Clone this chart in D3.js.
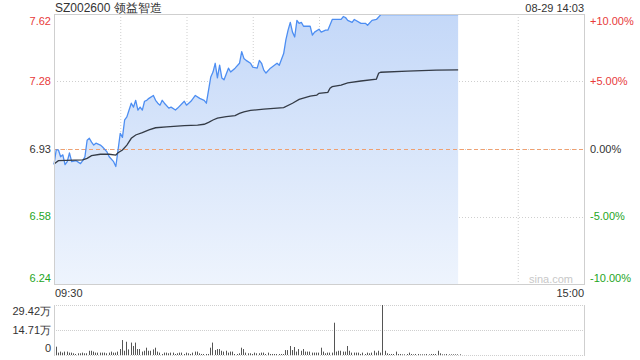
<!DOCTYPE html>
<html><head><meta charset="utf-8">
<script src="https://cdn.jsdelivr.net/npm/d3@7"></script>
<style>html,body{margin:0;padding:0;background:#fff;} svg{display:block;font-family:"Liberation Sans",Arial,sans-serif;}</style>
</head><body><svg id="c" width="640" height="360"></svg>
<script>
const title = "SZ002600 领益智造";
const stamp = "08-29 14:03";
const watermark = "sina.com";
const prevClose = 6.93;
const priceTickLabels = ["7.62","7.28","6.93","6.58","6.24"];
const pctTicks = [10,5,0,-5,-10];
const pctTickLabels = ["+10.00%","+5.00%","0.00%","-5.00%","-10.00%"];
const timeLabels = ["09:30","15:00"];
const volTicks = [29.42,14.71,0];
const volTickLabels = ["29.42万","14.71万","0"];

const priceMinutes = [0,1,2,3,4,5,6,7,8,10,12,13,14,15,16,17,18,19,21,22,24,25,27,28,29,30,31,32,33,34,35,36,37,38,39,40,41,42,43,45,46,47,48,49,50,52,53,55,56,59,60,62,64,66,68,69,71,72,73,74,75,76,77,79,80,82,84,85,86,87,89,90,92,93,94,95,96,98,101,102,104,105,106,107,108,109,110,111,112,113,116,117,118,120,121,123,124,126,130,131,132,133,135,136,139,141,142,144,146,148,183];
const prices = [6.85,6.925,6.925,6.89,6.90,6.85,6.865,6.91,6.865,6.87,6.855,6.87,6.89,6.975,6.985,6.965,6.95,6.96,6.95,6.94,6.915,6.89,6.865,6.84,6.925,7.01,6.99,7.08,7.095,7.13,7.165,7.145,7.18,7.13,7.145,7.13,7.175,7.18,7.19,7.205,7.18,7.165,7.155,7.18,7.165,7.14,7.145,7.13,7.14,7.175,7.155,7.175,7.205,7.19,7.18,7.165,7.30,7.325,7.37,7.295,7.36,7.295,7.285,7.345,7.325,7.345,7.37,7.43,7.395,7.385,7.37,7.35,7.345,7.385,7.37,7.335,7.32,7.345,7.37,7.36,7.42,7.49,7.54,7.58,7.53,7.505,7.59,7.575,7.58,7.56,7.56,7.515,7.53,7.545,7.53,7.54,7.54,7.595,7.595,7.61,7.605,7.59,7.58,7.595,7.575,7.575,7.565,7.59,7.595,7.62,7.62];

const avgMinutes = [0,2,13,15,17,21,25,28,29,31,33,35,37,40,43,46,51,59,65,68,70,72,74,78,82,84,86,89,95,104,108,111,116,119,120,124,125,126,130,133,139,146,147,148,160,173,183];
const avgPrices = [6.853,6.87,6.874,6.882,6.896,6.903,6.903,6.899,6.911,6.925,6.95,6.985,7.002,7.014,7.028,7.039,7.044,7.05,7.053,7.057,7.067,7.079,7.088,7.096,7.101,7.113,7.121,7.128,7.135,7.142,7.165,7.185,7.202,7.207,7.216,7.221,7.242,7.25,7.258,7.27,7.279,7.289,7.319,7.324,7.33,7.335,7.336];

const volumes = [4.9,1.4,2.0,1.4,2.0,2.0,1.4,1.4,1.0,0.6,1.0,1.0,1.4,1.0,1.0,2.5,2.5,2.0,1.4,1.4,1.4,1.4,1.4,1.0,1.4,2.0,1.4,1.4,2.0,3.5,
8.8,2.5,7.8,3.3,7.3,5.3,7.3,3.5,3.5,2.0,2.5,4.3,2.5,2.5,3.3,4.3,2.0,1.4,0.6,1.4,1.4,1.0,1.4,1.4,0.6,1.0,1.4,1.4,0.6,1.4,
1.0,0.6,1.4,2.0,2.0,1.0,0.6,0.6,0.6,0.6,4.3,7.3,2.9,3.5,3.5,2.5,2.0,2.5,1.4,2.0,2.0,0.6,0.6,1.0,4.3,3.5,1.4,1.0,1.0,0.6,
1.4,1.0,1.0,1.4,1.4,0.6,1.4,0.6,0.6,0.6,0.6,0.6,0.6,0.6,2.9,2.9,5.3,2.9,4.7,2.0,3.5,2.5,3.5,2.0,2.0,2.0,1.4,1.4,1.4,1.4,
4.3,2.0,1.0,1.4,1.4,1.4,19.0,2.0,2.5,2.5,2.0,2.0,5.3,2.5,1.4,1.4,1.4,1.4,0.6,1.4,0.6,1.4,1.0,1.4,2.5,1.4,2.5,1.4,29.42,2.5,
1.0,0.6,0.6,0.6,2.0,0.6,0.6,0.4,0.4,0.6,1.4,0.6,0.4,0.6,0.6,0.4,0.4,0.4,0.6,0.4,0.6,0.6,0.6,2.5,1.0,0.4,0.4,0.6,0.4,0.4,
0.4,0.4,0.4,0.4];

const L = 54, R = 584, T = 14, B = 284, VT = 305, VB = 355;
const svg = d3.select("#c");
const x = d3.scaleLinear().domain([0, 240]).range([L, R]);
const y = d3.scaleLinear().domain([prevClose * 0.9, prevClose * 1.1]).range([B, T]);
const yv = d3.scaleLinear().domain([0, 29.42]).range([VB, VT]);
const grid = "#cfcfcf";

// gradient
const defs = svg.append("defs");
const g = defs.append("linearGradient").attr("id", "fillg").attr("gradientUnits", "userSpaceOnUse")
  .attr("x1", 0).attr("y1", T).attr("x2", 0).attr("y2", B);
g.append("stop").attr("offset", 0).attr("stop-color", "#c4d8f8");
g.append("stop").attr("offset", 1).attr("stop-color", "#eef4fd");

// vertical grid
const vMin = d3.range(1, 8).map(k => k * 30);
svg.append("g").selectAll("line").data(vMin).join("line")
  .attr("x1", d => x(d) + 0.5).attr("x2", d => x(d) + 0.5).attr("y1", T).attr("y2", B)
  .attr("stroke", grid).attr("stroke-dasharray", "1,2");
// horizontal grid
svg.append("g").selectAll("line").data(pctTicks.filter(p => p !== 10 && p !== -10)).join("line")
  .attr("x1", L).attr("x2", R).attr("y1", d => Math.round(y(prevClose * (1 + d / 100))) + 0.5)
  .attr("y2", d => Math.round(y(prevClose * (1 + d / 100))) + 0.5)
  .attr("stroke", grid).attr("stroke-dasharray", "1,2");

const pts = priceMinutes.map((m, i) => ({ m, p: prices[i] }));
const apts = avgMinutes.map((m, i) => ({ m, p: avgPrices[i] }));

svg.append("path").datum(pts)
  .attr("d", d3.area().x(d => x(d.m)).y0(B).y1(d => y(d.p)))
  .attr("fill", "url(#fillg)");

// prev close dashed line
const y0 = Math.round(y(prevClose)) + 0.5;
svg.append("line").attr("x1", L).attr("x2", R).attr("y1", y0).attr("y2", y0)
  .attr("stroke", "#f0a070").attr("stroke-dasharray", "4,3");

svg.append("path").datum(pts)
  .attr("d", d3.line().x(d => x(d.m)).y(d => y(d.p)))
  .attr("fill", "none").attr("stroke", "#4d8ef2").attr("stroke-width", 1.3).attr("stroke-linejoin", "round");
svg.append("path").datum(apts)
  .attr("d", d3.line().x(d => x(d.m)).y(d => y(d.p)))
  .attr("fill", "none").attr("stroke", "#343b46").attr("stroke-width", 1.3);

// border
svg.append("rect").attr("x", L + 0.5).attr("y", T + 0.5).attr("width", R - L).attr("height", B - T)
  .attr("fill", "none").attr("stroke", grid);

// left labels
const colorFor = p => p > 0 ? "#e83a3a" : (p < 0 ? "#1ea51e" : "#333");
const clampY = v => Math.max(T + 7, Math.min(B - 6, v));
svg.append("g").selectAll("text").data(pctTicks).join("text")
  .attr("x", 51).attr("y", d => clampY(y(prevClose * (1 + d / 100)))).attr("dy", "0.35em")
  .attr("text-anchor", "end").attr("font-size", 11).attr("fill", d => colorFor(d))
  .text((d, i) => priceTickLabels[i]);
svg.append("g").selectAll("text").data(pctTicks).join("text")
  .attr("x", 590).attr("y", d => clampY(y(prevClose * (1 + d / 100)))).attr("dy", "0.35em")
  .attr("text-anchor", "start").attr("font-size", 11).attr("fill", d => colorFor(d))
  .text((d, i) => pctTickLabels[i]);

// title & stamp
svg.append("text").attr("x", 55).attr("y", 12).attr("font-size", 12).attr("fill", "#333").text(title);
svg.append("text").attr("x", R).attr("y", 11.5).attr("font-size", 11).attr("text-anchor", "end").attr("fill", "#333").text(stamp);
svg.append("text").attr("x", 573).attr("y", 279).attr("dy", "0.35em").attr("font-size", 11).attr("text-anchor", "end").attr("fill", "#c8c8c8").text(watermark);

// time labels
svg.append("text").attr("x", x(0) + 1).attr("y", 293).attr("dy", "0.35em").attr("font-size", 11).attr("fill", "#333").text(timeLabels[0]);
svg.append("text").attr("x", x(240)).attr("y", 293).attr("dy", "0.35em").attr("font-size", 11).attr("text-anchor", "end").attr("fill", "#333").text(timeLabels[1]);

// volume panel
svg.append("g").selectAll("line").data(volTicks).join("line")
  .attr("x1", L).attr("x2", R).attr("y1", d => Math.round(yv(d)) + 0.5).attr("y2", d => Math.round(yv(d)) + 0.5)
  .attr("stroke", grid).attr("stroke-dasharray", "1,1");
[L, R].forEach(xx => svg.append("line").attr("x1", xx + 0.5).attr("x2", xx + 0.5).attr("y1", VT).attr("y2", VB + 1).attr("stroke", grid));
svg.append("g").selectAll("rect").data(volumes).join("rect")
  .attr("x", (d, i) => Math.round(x(i) + 1.5)).attr("width", 1)
  .attr("y", d => yv(d)).attr("height", d => VB - yv(d))
  .attr("fill", "#555");
const clampV = v => Math.max(VT + 6, Math.min(VB - 7, v));
svg.append("g").selectAll("text").data(volTicks).join("text")
  .attr("x", 51).attr("y", d => clampV(yv(d))).attr("dy", "0.35em")
  .attr("text-anchor", "end").attr("font-size", 11).attr("fill", "#333")
  .text((d, i) => volTickLabels[i]);
</script></body></html>
